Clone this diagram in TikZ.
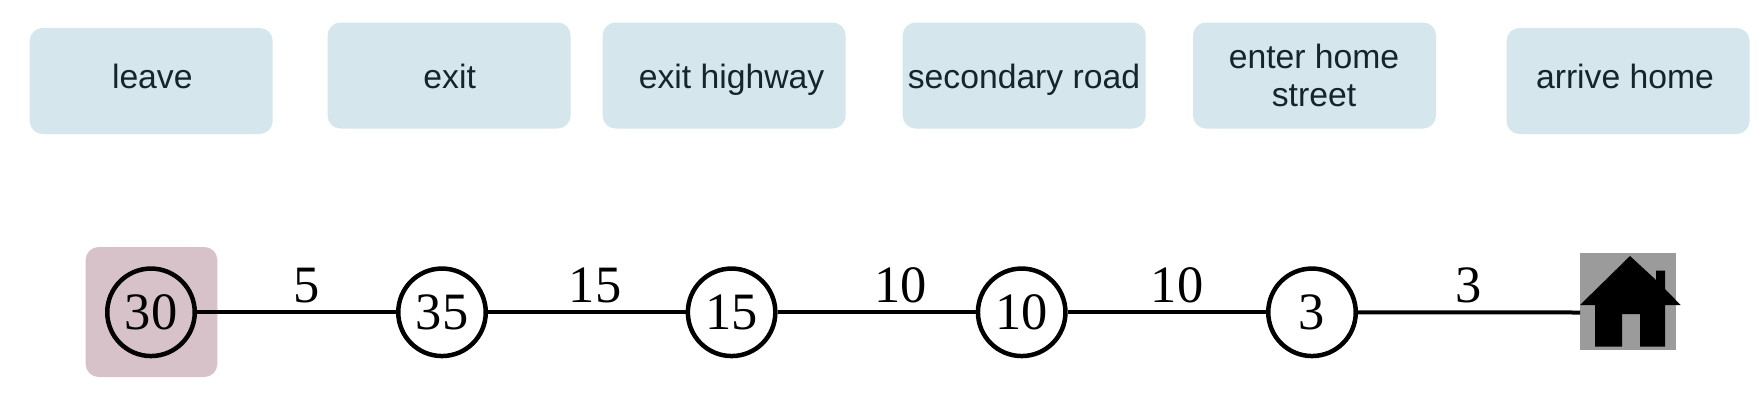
\documentclass[tikz,border=0pt]{standalone}
\usepackage{fontspec}
\setmainfont{Liberation Serif}
\newfontfamily\boxfont{Liberation Sans}
\definecolor{boxblue}{HTML}{D5E6EC}
\definecolor{boxred}{HTML}{D6C2C8}
\definecolor{homegrey}{HTML}{9B9B9B}
\definecolor{boxink}{HTML}{16242C}
\tikzset{
  stepbox/.style={draw=none,fill=boxblue,rounded corners=13pt,minimum width=243pt,minimum height=106pt,inner sep=0pt},
  boxtext/.style={font=\boxfont\fontsize{33.7}{38.5}\selectfont,text=boxink,align=center,inner sep=0pt,anchor=base},
  city/.style={circle,draw=black,line width=4.5pt,minimum size=87.5pt,inner sep=0pt,font=\fontsize{52.5}{60}\selectfont},
  road/.style={draw=black,line width=4pt},
  dist/.style={font=\fontsize{52.5}{60}\selectfont,inner sep=0pt,anchor=base}
}
\begin{document}
\begin{tikzpicture}[x=1pt,y=-1pt]
\useasboundingbox[fill=white] (0,0) rectangle (1764,402);
% label boxes
\node[stepbox] (b1) at (151.2,81) {};
\node[stepbox] (b2) at (449.1,75.5) {};
\node[stepbox] (b3) at (724.1,75.5) {};
\node[stepbox] (b4) at (1024.2,75.5) {};
\node[stepbox] (b5) at (1314.5,75.5) {};
\node[stepbox] (b6) at (1628,81) {};
\node[boxtext] (t1) at (152.3,88) {leave};
\node[boxtext] (t2) at (449.7,88) {exit};
\node[boxtext] (t3) at (731.6,88) {exit highway};
\node[boxtext] (t4) at (1024,88) {secondary road};
\node[boxtext] (t5a) at (1314,68) {enter home};
\node[boxtext] (t5b) at (1314,106.7) {street};
\node[boxtext] (t6) at (1625,88) {arrive home};
% start highlight and home
\node[fill=boxred,rounded corners=13pt,minimum width=131.7pt,minimum height=130pt,inner sep=0pt] (start) at (151.5,312) {};
\node[fill=homegrey,minimum width=96.4pt,minimum height=97pt,inner sep=0pt] (home) at (1628.2,301.5) {};
% chain
\node[city] (c1) at (151,312.3) {30};
\node[city] (c2) at (442,312.3) {35};
\node[city] (c3) at (731.6,312.3) {15};
\node[city] (c4) at (1021.7,312.3) {10};
\node[city] (c5) at (1312,312.3) {3};
\coordinate (homein) at (1580,312.5);
\draw[road] (c1) -- (c2);
\draw[road] (c2) -- (c3);
\draw[road] (c3) -- (c4);
\draw[road] (c4) -- (c5);
\draw[road] (c5) -- (homein);
\node[dist] (d1) at (307,302) {5};
\node[dist] (d2) at (595,302) {15};
\node[dist] (d3) at (900.8,302) {10};
\node[dist] (d4) at (1177,302) {10};
\node[dist] (d5) at (1469,302) {3};
% house
\fill[black] (1630,256) -- (1656,280) -- (1656,270.7) -- (1665,270.7) -- (1665,289) -- (1680.6,305) -- (1665,305) -- (1665,346.7)
  -- (1640,346.7) -- (1640,314) -- (1622,314) -- (1622,346.7) -- (1595,346.7) -- (1595,305) -- (1580,305) -- cycle;
\end{tikzpicture}
\end{document}
